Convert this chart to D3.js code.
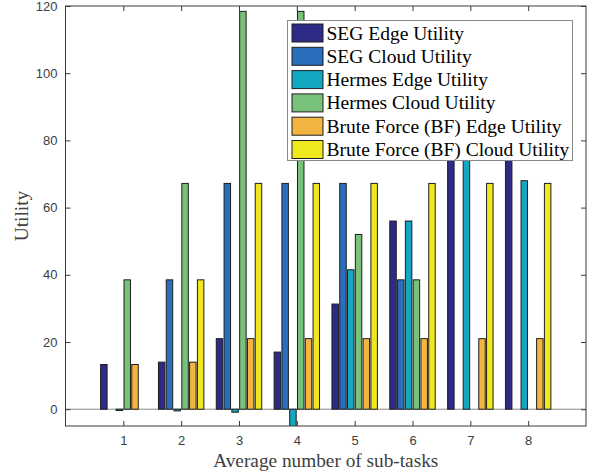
<!DOCTYPE html>
<html><head><meta charset="utf-8">
<script src="https://cdn.jsdelivr.net/npm/d3@7"></script>
<style>body{margin:0;background:#fff}</style>
</head><body>
<svg id="c" width="597" height="476"></svg>
<script>
const categories = [1, 2, 3, 4, 5, 6, 7, 8];
const seriesNames = ["SEG Edge Utility", "SEG Cloud Utility", "Hermes Edge Utility", "Hermes Cloud Utility", "Brute Force (BF) Edge Utility", "Brute Force (BF) Cloud Utility"];
const segEdge = [13.3, 14, 21, 17, 31.3, 56, 85, 85];
const segCloud = [0, 38.5, 67.2, 67.2, 67.2, 38.5, 0, 0];
const hermesEdge = [-0.4, -0.5, -0.9, -12, 41.5, 56, 85, 68];
const hermesCloud = [38.5, 67.2, 118.4, 118.4, 52, 38.5, 0, 0];
const bfEdge = [13.3, 14, 21, 21, 21, 21, 21, 21];
const bfCloud = [0, 38.5, 67.2, 67.2, 67.2, 67.2, 67.2, 67.2];
const yTicks = [0, 20, 40, 60, 80, 100, 120];
const colors = ["#2e2b87", "#2a6ebd", "#14a7c2", "#78c17b", "#f2b540", "#f0e81f"];
const series = [segEdge, segCloud, hermesEdge, hermesCloud, bfEdge, bfCloud];

const svg = d3.select("#c");
const L = 65.5, R = 586, T = 6, B = 426;
const x = d3.scaleLinear().domain([0, 9]).range([L, R]);
const y = d3.scaleLinear().domain([-5, 120]).range([B, T]);
const step = 0.1347, bw = 0.112;
const axisColor = "#3a3a3a";

svg.append("defs").append("clipPath").attr("id", "clip")
  .append("rect").attr("x", L).attr("y", T).attr("width", R - L).attr("height", B - T);

const g = svg.append("g").attr("clip-path", "url(#clip)");
g.append("line").attr("x1", L).attr("x2", R).attr("y1", y(0)).attr("y2", y(0))
  .attr("stroke", "#8a8a8a").attr("stroke-width", 1);

series.forEach((vals, si) => {
  g.selectAll(null).data(vals).enter().append("rect")
    .attr("x", (d, i) => x(categories[i] + (si - 2.5) * step - bw / 2))
    .attr("width", x(bw) - x(0))
    .attr("y", d => y(Math.max(d, 0)))
    .attr("height", d => Math.abs(y(d) - y(0)))
    .attr("fill", colors[si])
    .attr("stroke", "#1e1e1e").attr("stroke-width", 1);
});

const tickLen = 5;
const fontSans = "'Liberation Sans', Arial, Helvetica, sans-serif";
const fontSerif = "'Liberation Serif', 'Times New Roman', serif";
function styleAxis(sel) {
  sel.select(".domain").remove();
  sel.selectAll("line").attr("stroke", axisColor);
  sel.selectAll("text").attr("fill", "#404040").style("font-family", fontSans).style("font-size", "13px");
}
svg.append("g").attr("transform", `translate(0,${B})`)
  .call(d3.axisBottom(x).tickValues(categories).tickSize(-tickLen).tickPadding(10).tickFormat(d3.format("d")))
  .call(styleAxis);
svg.append("g").attr("transform", `translate(0,${T})`)
  .call(d3.axisTop(x).tickValues(categories).tickSize(-tickLen).tickFormat(""))
  .call(styleAxis);
svg.append("g").attr("transform", `translate(${L},0)`)
  .call(d3.axisLeft(y).tickValues(yTicks).tickSize(-tickLen).tickPadding(8).tickFormat(d3.format("d")))
  .call(styleAxis);
svg.append("g").attr("transform", `translate(${R},0)`)
  .call(d3.axisRight(y).tickValues(yTicks).tickSize(-tickLen).tickFormat(""))
  .call(styleAxis);
svg.append("rect").attr("x", L).attr("y", T).attr("width", R - L).attr("height", B - T)
  .attr("fill", "none").attr("stroke", axisColor).attr("stroke-width", 1);

svg.append("text").attr("x", (L + R) / 2).attr("y", 467).attr("text-anchor", "middle")
  .style("font-family", fontSerif).style("font-size", "19.3px").attr("fill", "#404040")
  .text("Average number of sub-tasks");
svg.append("text").attr("transform", `translate(28,${(T + B) / 2}) rotate(-90)`).attr("text-anchor", "middle")
  .style("font-family", fontSerif).style("font-size", "19.3px").attr("fill", "#404040")
  .text("Utility");

const lg = svg.append("g");
lg.append("rect").attr("x", 287.5).attr("y", 20.5).attr("width", 285).attr("height", 140)
  .attr("fill", "#fff").attr("stroke", "#8a8a8a").attr("stroke-width", 1);
seriesNames.forEach((name, i) => {
  const cy = 33 + i * 23.3;
  lg.append("rect").attr("x", 292).attr("y", cy - 9).attr("width", 31).attr("height", 18)
    .attr("fill", colors[i]).attr("stroke", "#1e1e1e").attr("stroke-width", 1);
  lg.append("text").attr("x", 326.5).attr("y", cy + 6.5)
    .style("font-family", fontSerif).style("font-size", "19.5px").attr("fill", "#000")
    .text(name);
});
</script>
</body></html>
